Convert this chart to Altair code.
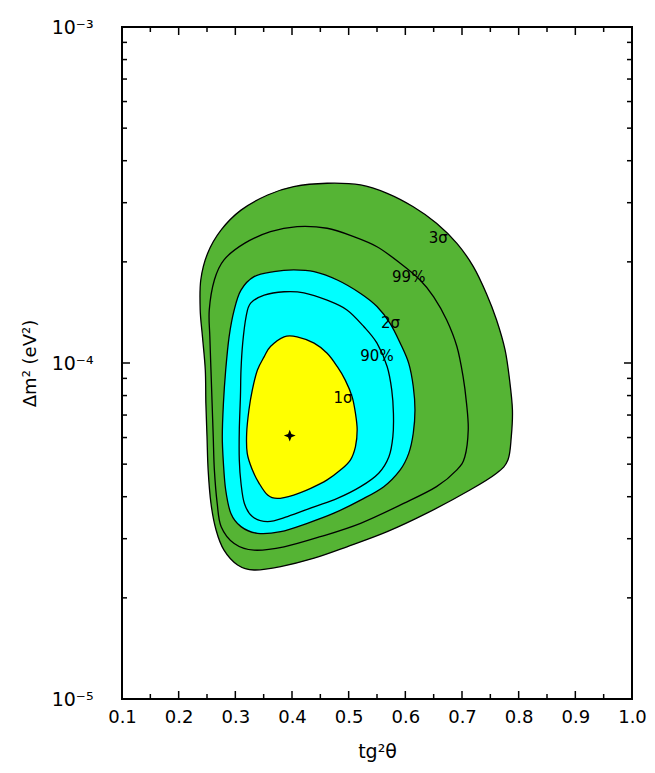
import altair as alt
import pandas as pd

# ---- data (x = tg^2 theta, y stored as log10(dm^2 / eV^2)) ----
c3s_x = [0.251, 0.275, 0.310, 0.357, 0.403, 0.462, 0.521, 0.568, 0.614, 0.655, 0.691, 0.720,
         0.743, 0.761, 0.776, 0.784, 0.789, 0.787, 0.781, 0.761, 0.714, 0.638, 0.568, 0.497,
         0.439, 0.380, 0.333, 0.304, 0.280, 0.266, 0.257, 0.252, 0.250, 0.248, 0.247, 0.242,
         0.238, 0.239]
c3s_y = [-3.674, -3.604, -3.545, -3.500, -3.475, -3.465, -3.470, -3.495, -3.535, -3.584, -3.644, -3.713,
         -3.793, -3.872, -3.961, -4.051, -4.140, -4.219, -4.289, -4.328, -4.378, -4.447, -4.502, -4.547,
         -4.581, -4.606, -4.616, -4.601, -4.557, -4.497, -4.418, -4.318, -4.219, -4.120, -4.021, -3.922,
         -3.842, -3.753]

c99_x = [0.254, 0.263, 0.280, 0.316, 0.362, 0.409, 0.462, 0.509, 0.550, 0.591, 0.626, 0.650,
         0.673, 0.691, 0.702, 0.708, 0.711, 0.705, 0.691, 0.655, 0.597, 0.521, 0.450, 0.386,
         0.333, 0.298, 0.275, 0.268, 0.263, 0.261, 0.259, 0.257, 0.255]
c99_y = [-3.842, -3.753, -3.693, -3.644, -3.609, -3.594, -3.599, -3.624, -3.654, -3.703, -3.753, -3.803,
         -3.872, -3.951, -4.041, -4.120, -4.199, -4.279, -4.318, -4.368, -4.418, -4.477, -4.517, -4.547,
         -4.557, -4.537, -4.487, -4.418, -4.318, -4.219, -4.120, -4.021, -3.922]

c2s_x = [0.289, 0.298, 0.310, 0.333, 0.368, 0.403, 0.439, 0.480, 0.521, 0.550, 0.573, 0.591,
         0.606, 0.614, 0.617, 0.614, 0.606, 0.591, 0.562, 0.521, 0.474, 0.427, 0.380, 0.339,
         0.310, 0.292, 0.283, 0.279, 0.277, 0.279, 0.283]
c2s_y = [-3.922, -3.842, -3.783, -3.743, -3.728, -3.723, -3.728, -3.753, -3.793, -3.832, -3.882, -3.941,
         -4.001, -4.070, -4.140, -4.209, -4.269, -4.318, -4.368, -4.408, -4.447, -4.477, -4.502, -4.507,
         -4.487, -4.447, -4.378, -4.299, -4.219, -4.120, -4.021]

c90_x = [0.313, 0.319, 0.327, 0.351, 0.386, 0.421, 0.462, 0.497, 0.527, 0.550, 0.568, 0.576,
         0.579, 0.578, 0.571, 0.553, 0.521, 0.480, 0.439, 0.392, 0.357, 0.330, 0.316, 0.310,
         0.307, 0.307, 0.309, 0.310]
c90_y = [-3.941, -3.862, -3.822, -3.798, -3.788, -3.791, -3.813, -3.842, -3.892, -3.941, -4.011, -4.080,
         -4.150, -4.219, -4.279, -4.328, -4.368, -4.403, -4.428, -4.457, -4.472, -4.457, -4.418, -4.358,
         -4.289, -4.199, -4.100, -4.021]

c1s_x = [0.339, 0.351, 0.362, 0.386, 0.409, 0.439, 0.462, 0.480, 0.494, 0.506, 0.512, 0.515,
         0.512, 0.503, 0.486, 0.462, 0.433, 0.403, 0.374, 0.357, 0.342, 0.330, 0.321, 0.320,
         0.324, 0.330]
c1s_y = [-4.021, -3.981, -3.951, -3.922, -3.922, -3.941, -3.971, -4.011, -4.051, -4.100, -4.150, -4.199,
         -4.249, -4.289, -4.318, -4.348, -4.373, -4.393, -4.403, -4.393, -4.358, -4.318, -4.269, -4.209,
         -4.140, -4.080]

best_x = [0.396]
best_y = [6.08e-5]

label_text = ["3σ", "99%", "2σ", "90%", "1σ"]
label_x = [0.658, 0.606, 0.574, 0.550, 0.490]
label_y = [-3.627, -3.743, -3.882, -3.979, -4.105]

x_major = [0.1, 0.2, 0.3, 0.4, 0.5, 0.6, 0.7, 0.8, 0.9, 1.0]
x_minor = [0.15, 0.25, 0.35, 0.45, 0.55, 0.65, 0.75, 0.85, 0.95]
y_major = [1e-5, 1e-4, 1e-3]
y_minor = [m * d for d in (1e-5, 1e-4) for m in range(2, 10)]

W, H = 510, 672
FONT = "DejaVu Sans"


def contour_df(xs, ys, name):
    return pd.DataFrame({"i": list(range(len(xs))), "x": xs,
                         "dm2": [10 ** v for v in ys], "level": name})


xs = alt.Scale(domain=[0.1, 1.0], nice=False, zero=False)
ys = alt.Scale(type="log", domain=[1e-5, 1e-3], nice=False)

x_axis = alt.Axis(values=x_major, format=".1f", ticks=False, tickSize=0, domain=False, grid=False,
                  labelFont=FONT, labelFontSize=18, labelColor="black", labelPadding=9,
                  labelFlush=False, labelOverlap=False,
                  title="tg²θ", titleFont=FONT, titleFontSize=19, titleFontWeight="normal",
                  titleColor="black", titlePadding=16)
y_axis = alt.Axis(values=y_major, ticks=False, tickSize=0, domain=False, grid=False,
                  labelExpr="datum.value < 5e-5 ? '10⁻⁵' : (datum.value < 5e-4 ? '10⁻⁴' : '10⁻³')",
                  labelFont=FONT, labelFontSize=19, labelColor="black", labelPadding=29,
                  labelFlush=False, labelOverlap=False,
                  title="Δm² (eV²)", titleFont=FONT, titleFontSize=18, titleFontWeight="normal",
                  titleColor="black", titlePadding=12)


def region(xs_, ys_, name, fill):
    d = contour_df(xs_, ys_, name)
    kw = dict(interpolate="cardinal-closed", stroke="black", strokeWidth=1.3)
    if fill:
        kw["fill"] = fill
    return alt.Chart(d).mark_line(**kw).encode(
        x=alt.X("x:Q", scale=xs, axis=x_axis),
        y=alt.Y("dm2:Q", scale=ys, axis=y_axis),
        order=alt.Order("i:Q"),
    )


layers = [
    region(c3s_x, c3s_y, "3s", "#55b434"),
    region(c99_x, c99_y, "99", None),
    region(c2s_x, c2s_y, "2s", "#00ffff"),
    region(c90_x, c90_y, "90", None),
    region(c1s_x, c1s_y, "1s", "#ffff00"),
]

lab_df = pd.DataFrame({"t": label_text, "x": label_x, "dm2": [10 ** v for v in label_y]})
layers.append(alt.Chart(lab_df).mark_text(font=FONT, fontSize=15, color="black").encode(
    x=alt.X("x:Q", scale=xs), y=alt.Y("dm2:Q", scale=ys), text="t:N"))

star = "M0,-1L0.28,-0.28L1,0L0.28,0.28L0,1L-0.28,0.28L-1,0L-0.28,-0.28Z"
best_df = pd.DataFrame({"x": best_x, "dm2": best_y})
layers.append(alt.Chart(best_df).mark_point(shape=star, filled=True, color="black", size=140, opacity=1).encode(
    x=alt.X("x:Q", scale=xs), y=alt.Y("dm2:Q", scale=ys)))

# ticks pointing inward on all four sides
xmaj = pd.DataFrame({"x": x_major})
xmin = pd.DataFrame({"x": x_minor})
ymaj = pd.DataFrame({"dm2": y_major})
ymin = pd.DataFrame({"dm2": y_minor})
tick = dict(color="black", strokeWidth=1.5)
for df_, ln in ((xmaj, 8), (xmin, 5)):
    layers.append(alt.Chart(df_).mark_rule(**tick).encode(
        x=alt.X("x:Q", scale=xs), y=alt.value(H), y2=alt.value(H - ln)))
    layers.append(alt.Chart(df_).mark_rule(**tick).encode(
        x=alt.X("x:Q", scale=xs), y=alt.value(0), y2=alt.value(ln)))
for df_, ln in ((ymaj, 8), (ymin, 5)):
    layers.append(alt.Chart(df_).mark_rule(**tick).encode(
        y=alt.Y("dm2:Q", scale=ys), x=alt.value(0), x2=alt.value(ln)))
    layers.append(alt.Chart(df_).mark_rule(**tick).encode(
        y=alt.Y("dm2:Q", scale=ys), x=alt.value(W), x2=alt.value(W - ln)))

chart = alt.layer(*layers).properties(
    width=W, height=H, autosize="none", background="white",
    padding={"left": 114, "top": 19, "right": 15, "bottom": 64},
).configure_view(stroke="black", strokeWidth=2)

chart.save("out.html", embed_options={"renderer": "svg", "actions": False})
